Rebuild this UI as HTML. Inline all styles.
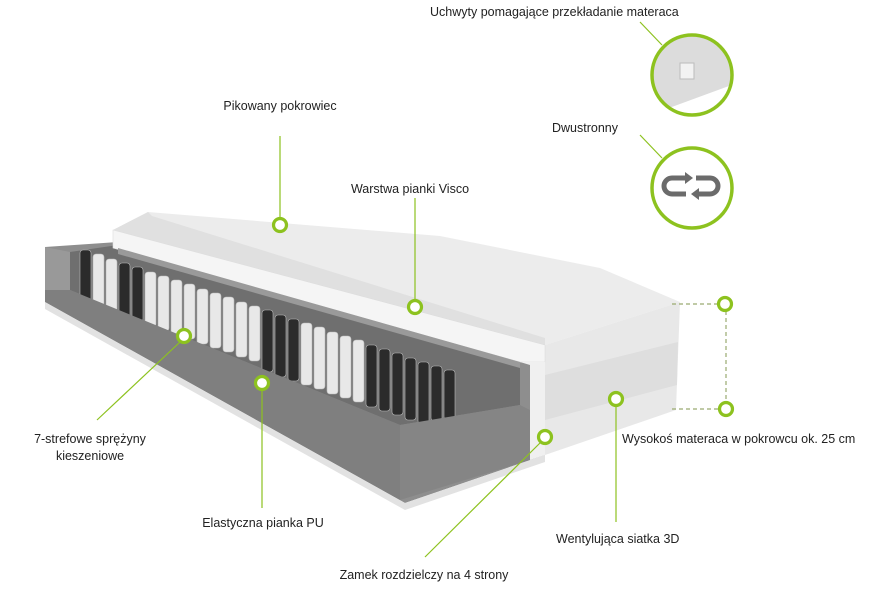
<!DOCTYPE html>
<html><head><meta charset="utf-8"><style>
html,body{margin:0;padding:0;background:#fff;}
svg{display:block;}
text{font-family:"Liberation Sans",sans-serif;font-size:12.5px;fill:#222;}
</style></head><body>
<svg width="877" height="608" viewBox="0 0 877 608" xmlns="http://www.w3.org/2000/svg">
<!-- mattress top cover -->
<polygon points="148,212 440,236 600,268 680,302 545,345 113,230" fill="#ececec"/>
<polygon points="148,212 113,230 545,345 545,338 152,216" fill="#e0e0e0"/>
<!-- right end face -->
<polygon points="545,345 680,302 676,410 545,455" fill="#e8e8e8"/>
<polygon points="545,375 678,342 677,385 545,420" fill="#dedede"/>
<!-- outer foam frame -->
<polygon points="45,247 118,242 545,345 545,455 405,503 45,302" fill="#8e8e8e"/>
<!-- cavity back -->
<polygon points="70,252 118,245 520,355 520,405 400,425 70,290" fill="#6f6f6f"/>
<!-- springs -->
<g stroke="#bbb" stroke-width="0.6">
<rect x="80" y="250" width="11" height="55" rx="3" fill="#2b2b2b"/>
<rect x="93" y="254" width="11" height="55" rx="3" fill="#e8e8e8"/>
<rect x="106" y="259" width="11" height="55" rx="3" fill="#e8e8e8"/>
<rect x="119" y="263" width="11" height="55" rx="3" fill="#2b2b2b"/>
<rect x="132" y="267" width="11" height="55" rx="3" fill="#2b2b2b"/>
<rect x="145" y="272" width="11" height="55" rx="3" fill="#e8e8e8"/>
<rect x="158" y="276" width="11" height="55" rx="3" fill="#e8e8e8"/>
<rect x="171" y="280" width="11" height="55" rx="3" fill="#e8e8e8"/>
<rect x="184" y="284" width="11" height="55" rx="3" fill="#e8e8e8"/>
<rect x="197" y="289" width="11" height="55" rx="3" fill="#e8e8e8"/>
<rect x="210" y="293" width="11" height="55" rx="3" fill="#e8e8e8"/>
<rect x="223" y="297" width="11" height="55" rx="3" fill="#e8e8e8"/>
<rect x="236" y="302" width="11" height="55" rx="3" fill="#e8e8e8"/>
<rect x="249" y="306" width="11" height="55" rx="3" fill="#e8e8e8"/>
<rect x="262" y="310" width="11" height="62" rx="3" fill="#2b2b2b"/>
<rect x="275" y="315" width="11" height="62" rx="3" fill="#2b2b2b"/>
<rect x="288" y="319" width="11" height="62" rx="3" fill="#2b2b2b"/>
<rect x="301" y="323" width="11" height="62" rx="3" fill="#e8e8e8"/>
<rect x="314" y="327" width="11" height="62" rx="3" fill="#e8e8e8"/>
<rect x="327" y="332" width="11" height="62" rx="3" fill="#e8e8e8"/>
<rect x="340" y="336" width="11" height="62" rx="3" fill="#e8e8e8"/>
<rect x="353" y="340" width="11" height="62" rx="3" fill="#e8e8e8"/>
<rect x="366" y="345" width="11" height="62" rx="3" fill="#2b2b2b"/>
<rect x="379" y="349" width="11" height="62" rx="3" fill="#2b2b2b"/>
<rect x="392" y="353" width="11" height="62" rx="3" fill="#2b2b2b"/>
<rect x="405" y="358" width="11" height="62" rx="3" fill="#2b2b2b"/>
<rect x="418" y="362" width="11" height="62" rx="3" fill="#2b2b2b"/>
<rect x="431" y="366" width="11" height="55" rx="3" fill="#2b2b2b"/>
<rect x="444" y="370" width="11" height="50" rx="3" fill="#2b2b2b"/>
</g>
<!-- front foam block (right) -->
<polygon points="400,425 520,405 530,410 530,460 400,500" fill="#858585"/>
<!-- cavity floor lip -->
<polygon points="45,290 70,290 400,425 400,500 45,302" fill="#7f7f7f"/>
<polygon points="45,247 70,252 70,290 45,290" fill="#999"/>
<!-- bottom white stripe -->
<polygon points="45,302 405,503 545,455 545,462 405,510 45,309" fill="#e2e2e2"/>
<!-- visco layer (white) -->
<polygon points="113,230 545,345 545,362 520,362 113,248" fill="#f5f5f5" stroke="#ddd" stroke-width="0.6"/>
<polygon points="118,248 520,362 520,368 118,254" fill="#9a9a9a"/>
<polygon points="520,362 545,362 545,455 530,460 530,365" fill="#f0f0f0"/>

<!-- connector lines -->
<g stroke="#8dc21f" stroke-width="1.2" fill="none">
<line x1="280" y1="136" x2="280" y2="218"/>
<line x1="415" y1="198" x2="415" y2="300"/>
<line x1="180" y1="342" x2="97" y2="420"/>
<line x1="262" y1="390" x2="262" y2="508"/>
<line x1="540" y1="443" x2="425" y2="557"/>
<line x1="616" y1="406" x2="616" y2="522"/>
<line x1="640" y1="22" x2="662" y2="45"/>
<line x1="640" y1="135" x2="662" y2="158"/>
<g stroke-dasharray="4,3" stroke="#9aaa70">
<line x1="672" y1="304" x2="717" y2="304"/>
<line x1="672" y1="409" x2="718" y2="409"/>
<line x1="726" y1="311" x2="726" y2="401"/>
</g>
</g>
<!-- dots -->
<g fill="#fff" stroke="#8dc21f" stroke-width="3.2">
<circle cx="280" cy="225" r="6.5"/>
<circle cx="415" cy="307" r="6.5"/>
<circle cx="184" cy="336" r="6.5"/>
<circle cx="262" cy="383" r="6.5"/>
<circle cx="545" cy="437" r="6.5"/>
<circle cx="616" cy="399" r="6.5"/>
<circle cx="725" cy="304" r="6.5"/>
<circle cx="726" cy="409" r="6.5"/>
</g>
<!-- big circles -->
<defs><clipPath id="c1"><circle cx="692" cy="75" r="40"/></clipPath></defs>
<g clip-path="url(#c1)">
<rect x="650" y="33" width="90" height="90" fill="#fff"/>
<polygon points="650,33 740,33 740,82 650,115" fill="#dcdcdc"/>
<rect x="680" y="63" width="14" height="16" fill="#f2f2f2" stroke="#bbb"/>
</g>
<circle cx="692" cy="75" r="40" fill="none" stroke="#8dc21f" stroke-width="3.5"/>
<circle cx="692" cy="188" r="40" fill="#fff" stroke="#8dc21f" stroke-width="3.5"/>
<g fill="none" stroke="#6b6b6b" stroke-width="5">
<path d="M686,178 H672 a8,8 0 0 0 0,16 H686"/>
<path d="M696,178 H710 a8,8 0 0 1 0,16 H696"/>
</g>
<polygon points="685,172 693,178 685,184" fill="#6b6b6b"/>
<polygon points="699,188 691,194 699,200" fill="#6b6b6b"/>

<!-- labels -->
<text x="430" y="16">Uchwyty pomagające przekładanie materaca</text>
<text x="280" y="110" text-anchor="middle">Pikowany pokrowiec</text>
<text x="552" y="132">Dwustronny</text>
<text x="410" y="193" text-anchor="middle">Warstwa pianki Visco</text>
<text x="90" y="443" text-anchor="middle">7-strefowe sprężyny</text>
<text x="90" y="460" text-anchor="middle">kieszeniowe</text>
<text x="263" y="527" text-anchor="middle">Elastyczna pianka PU</text>
<text x="622" y="443">Wysokoś materaca w pokrowcu ok. 25 cm</text>
<text x="556" y="543">Wentylująca siatka 3D</text>
<text x="424" y="579" text-anchor="middle">Zamek rozdzielczy na 4 strony</text>
</svg>
</body></html>
